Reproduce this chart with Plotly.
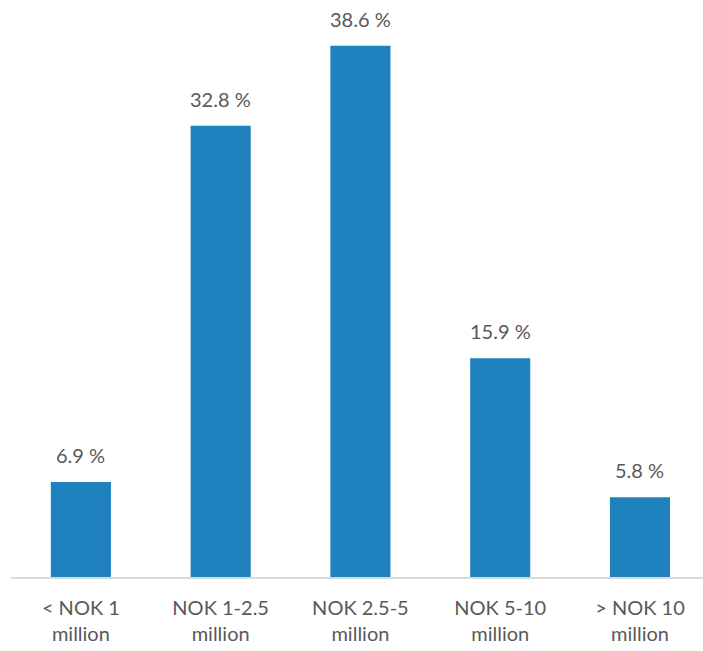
import plotly.graph_objects as go

categories = ["< NOK 1<br>million", "NOK 1-2.5<br>million", "NOK 2.5-5<br>million",
              "NOK 5-10<br>million", "> NOK 10<br>million"]
shares = [6.9, 32.8, 38.6, 15.9, 5.8]
labels = [f"{v:.1f} %" for v in shares]

BAR = "#1f82bf"
TXT = "#595959"
FONT = "Lato, Open Sans, sans-serif"

x = list(range(len(categories)))

fig = go.Figure(go.Bar(x=x, y=shares, marker=dict(color=BAR, line=dict(width=0)),
                       width=0.43, hoverinfo="skip"))

for xi, v, t in zip(x, shares, labels):
    fig.add_annotation(x=xi, y=v, text=t, showarrow=False, yanchor="bottom",
                       yshift=13, font=dict(family=FONT, size=20, color=TXT))

fig.update_layout(
    width=703, height=651,
    margin=dict(l=11, r=0, t=0, b=74),
    plot_bgcolor="white", paper_bgcolor="white",
    showlegend=False,
    xaxis=dict(range=[-0.5, 4.451], tickmode="array", tickvals=x, ticktext=categories,
               showline=True, linecolor="#d9d9d9", linewidth=2, showgrid=False,
               zeroline=False, ticks="outside", ticklen=12, tickcolor="rgba(0,0,0,0)",
               tickfont=dict(family=FONT, size=20, color=TXT)),
    yaxis=dict(range=[0, 41.93], visible=False, showgrid=False, zeroline=False),
)

fig.write_html("out.html")
